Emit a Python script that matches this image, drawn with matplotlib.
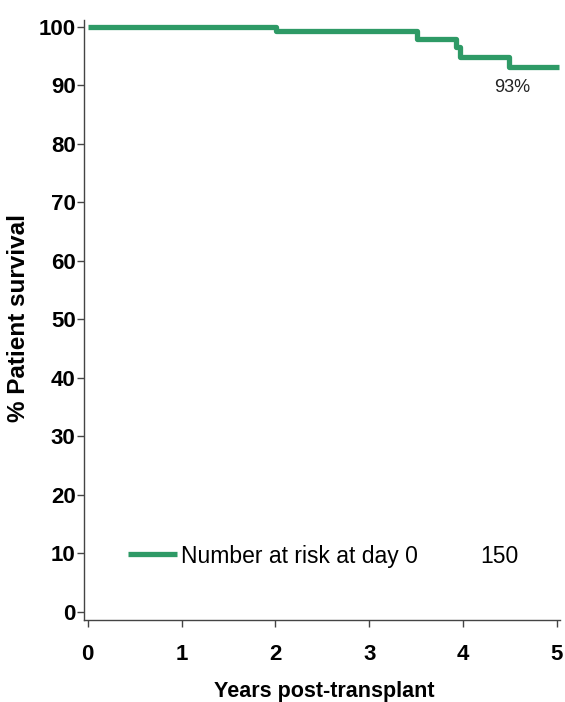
import matplotlib.pyplot as plt
from matplotlib import font_manager

# Kaplan-Meier step data (years, % surviving)
years = [0.0, 2.01, 3.51, 3.92, 3.97, 4.49, 5.02]
survival = [100.0, 99.3, 97.9, 96.5, 94.9, 93.2, 93.2]
final_label = "93%"
n_at_risk = 150

names = {f.name for f in font_manager.fontManager.ttflist}
narrow = 'Liberation Sans Narrow' if 'Liberation Sans Narrow' in names else 'Liberation Sans'
plt.rcParams['font.family'] = [narrow, 'DejaVu Sans']

green = '#2e9a66'

fig = plt.figure(figsize=(5.65, 7.02), dpi=100)
ax = fig.add_axes([0.1487, 0.1168, 0.842, 0.855])

ax.step(years, survival, where='post', color=green, lw=3.8, solid_capstyle='butt')
ax.text(4.52, 89.6, final_label, ha='center', va='center', fontsize=13,
        family='Liberation Sans', color='#222222')

# number-at-risk row drawn as a legend-style line
ax.plot([0.43, 0.95], [9.8, 9.8], color=green, lw=3.8, solid_capstyle='butt')
ax.text(0.99, 9.5, "Number at risk at day 0", ha='left', va='center', fontsize=16.5)
ax.text(4.39, 9.5, str(n_at_risk), ha='center', va='center', fontsize=16.5)

ax.set_xlim(-0.04, 5.03)
ax.set_ylim(-1.4, 101.2)
ax.set_xticks(range(0, 6))
ax.set_yticks(range(0, 101, 10))

for side in ('top', 'right'):
    ax.spines[side].set_visible(False)
for side in ('left', 'bottom'):
    ax.spines[side].set_color('#444444')
    ax.spines[side].set_linewidth(1.0)

ax.tick_params(axis='both', direction='out', length=5, width=1, color='#444444',
               labelsize=16)
for lab in ax.get_xticklabels() + ax.get_yticklabels():
    lab.set_fontweight('bold')
ax.tick_params(axis='x', pad=12)
ax.tick_params(axis='y', pad=1)

ax.set_xlabel("Years post-transplant", fontsize=15.5, fontweight='bold',
              family='Liberation Sans')
ax.set_ylabel("% Patient survival", fontsize=17.5, fontweight='bold',
              family='Liberation Sans')
ax.xaxis.set_label_coords(0.504, -0.102)
ax.yaxis.set_label_coords(-0.113, 0.5025)

fig.savefig("out.png", dpi=100)
